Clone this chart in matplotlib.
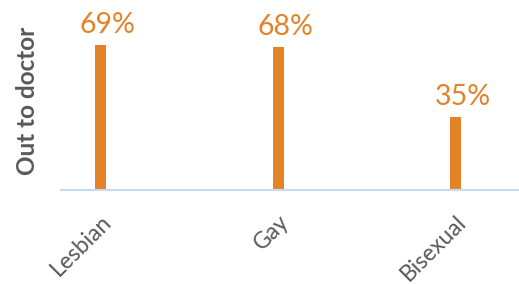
import matplotlib.pyplot as plt

categories = ["Lesbian", "Gay", "Bisexual"]
values = [69, 68, 35]
labels = ["69%", "68%", "35%"]

plt.rcParams["font.family"] = ["Lato", "DejaVu Sans"]

fig = plt.figure(figsize=(5.19, 2.84), dpi=100)
ax = fig.add_axes([61 / 519, 94 / 284, 1 - 61 / 519, 190 / 284])

x = range(len(categories))
ax.bar(x, values, width=0.062, color="#E38226")
for xi, v, lab in zip(x, values, labels):
    ax.annotate(lab, (xi, v), xytext=(5, 5), textcoords="offset points",
                ha="center", va="bottom", color="#E38226", fontsize=20.5)

ax.set_xlim(-0.225, 2.355)
ax.set_ylim(0, 90.5)
ax.set_xticks(list(x))
ax.set_xticklabels(categories, rotation=45, ha="right", rotation_mode="anchor",
                   color="#595959", fontsize=16.5)
ax.tick_params(axis="x", length=0, pad=15)
ax.set_yticks([])
ax.set_ylabel("Out to doctor", fontsize=17.5, fontweight="bold", color="#595959")
ax.yaxis.set_label_coords(-0.047, 0.47)

for s in ["top", "right", "left"]:
    ax.spines[s].set_visible(False)
ax.spines["bottom"].set_color("#C9DAF0")
ax.spines["bottom"].set_linewidth(1.5)

fig.savefig("out.png", dpi=100)
